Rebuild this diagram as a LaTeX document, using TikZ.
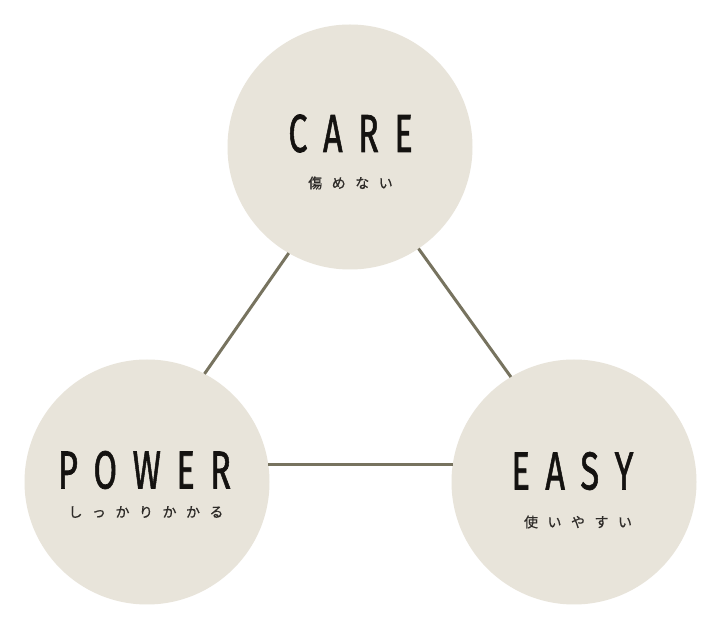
\documentclass[tikz,border=0pt]{standalone}
\usepackage{fontspec}
\usepackage{graphicx}
\newfontfamily\headfont[FakeBold=1.4]{Fira Sans}
\newfontfamily\jpfont[FakeBold=0.6]{Noto Sans CJK JP}
\definecolor{bubble}{HTML}{E8E4DA}
\definecolor{linkc}{HTML}{77735F}
\definecolor{inkc}{HTML}{141210}
\definecolor{jpc}{HTML}{2E2B28}
\newcommand\cl[1]{\scalebox{0.64}[1]{#1}}
\newcommand\hgapx{\hspace{15.5pt}}
\newcommand\jgapx{\hspace{9.5pt}}
\tikzset{
  bub/.style={circle, fill=bubble, minimum size=245pt, inner sep=0pt, outer sep=0pt},
  head/.style={inner sep=0pt, text=inkc, font=\headfont\fontsize{53.5}{60}\selectfont},
  sub/.style={inner sep=0pt, text=jpc, font=\jpfont\fontsize{14}{16}\selectfont},
  link/.style={draw=linkc, line width=3pt}
}
\begin{document}
\begin{tikzpicture}[x=1pt,y=1pt]
\useasboundingbox (0,0) rectangle (716,-644);
\fill[white] (0,0) rectangle (716,-644);
\node[bub] (care) at (350,-147) {};
\node[bub] (power) at (147,-482) {};
\node[bub] (easy) at (574,-482) {};
\draw[link] (care.240.3) -- (power.62.8);
\draw[link] (care.-56) -- (easy.121.4);
\draw[link] (power.8) -- (easy.172);
\node[head, anchor=center] (careT) at (350.5,-133.5) {\cl{C}\hgapx\cl{A}\hgapx\cl{R}\hgapx\cl{E}};
\node[sub] (careJ) at (350.5,-183) {傷\jgapx め\jgapx な\jgapx い};
\node[head] (powerT) at (144.5,-470) {\cl{P}\hgapx\cl{O}\hgapx\cl{W}\hgapx\cl{E}\hgapx\cl{R}};
\node[sub] (powerJ) at (146,-512) {し\jgapx っ\jgapx か\jgapx り\jgapx か\jgapx か\jgapx る};
\node[head] (easyT) at (572.5,-471) {\cl{E}\hgapx\cl{A}\hgapx\cl{S}\hgapx\cl{Y}};
\node[sub] (easyJ) at (578,-522) {使\jgapx い\jgapx や\jgapx す\jgapx い};
\end{tikzpicture}
\end{document}
